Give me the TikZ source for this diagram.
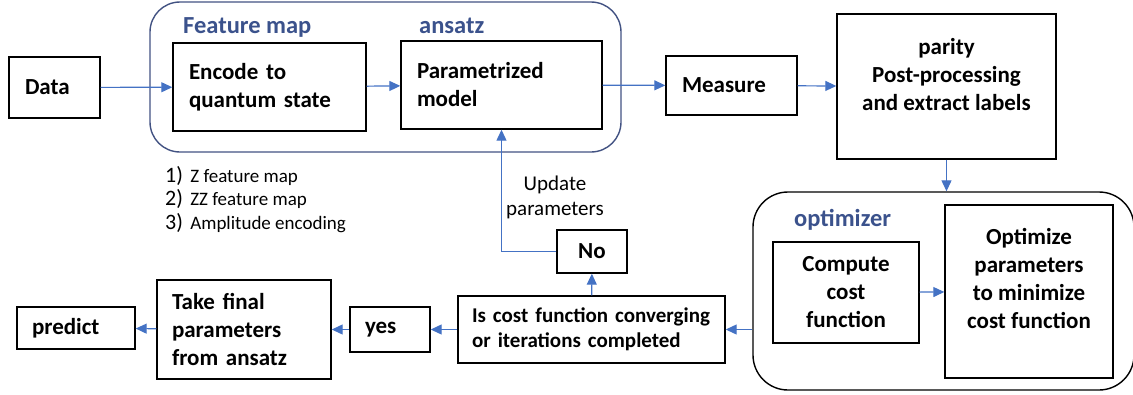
\documentclass[tikz,border=0pt]{standalone}
\usepackage{fontspec}
\setmainfont{Carlito}
\usetikzlibrary{arrows.meta}
\definecolor{ln}{RGB}{68, 114, 196}
\definecolor{tt}{RGB}{59, 82, 140}
\definecolor{gg}{RGB}{66, 82, 130}

\begin{document}
\begin{tikzpicture}[every node/.style={inner sep=0pt},
box/.style={rectangle, draw=black, line width=1.4pt, font=\fontsize{23}{28}\selectfont\bfseries},
grp/.style={rectangle, line width=1.4pt},
tag/.style={color=tt, font=\fontsize{24.5}{28}\selectfont\bfseries},
arr/.style={line width=1.2pt, color=ln, -{Triangle[length=11pt, width=10pt]}}]
\useasboundingbox (0pt, 0pt) rectangle (1133pt, -394pt);
\node (fm) [grp, draw=gg, rounded corners=30pt, minimum width=471pt, minimum height=150pt] at (385.5pt, -77pt) {};
\node (og) [grp, draw=black, rounded corners=35pt, minimum width=381pt, minimum height=198pt] at (943.5pt, -291pt) {};
\node (fmtag) [tag, anchor=base west] at (183pt, -33pt) {Feature map};
\node (anstag) [tag, anchor=base west] at (419pt, -33pt) {ansatz};
\node (opttag) [tag, anchor=base west] at (794pt, -226pt) {optimizer};
\node (data) [box, minimum height=61pt, text width=59pt, inner xsep=16pt, align=left] at (54.5pt, -87.5pt) {Data};
\node (enc) [box, minimum height=88pt, text width=161pt, inner xsep=16pt, align=left] at (269.5pt, -87pt) {Encode to\\quantum state};
\node (par) [box, minimum height=88pt, text width=169pt, inner xsep=16pt, align=left] at (501.5pt, -85pt) {Parametrized\\model};
\node (meas) [box, minimum height=59pt, text width=99pt, inner xsep=16pt, align=left] at (731.5pt, -85.5pt) {Measure};
\node (post) [box, minimum width=219pt, minimum height=145pt, align=center] at (946.5pt, -86.5pt) {parity\\Post-processing\\and extract labels\\[-4pt]\mbox{}};
\node (cost) [box, minimum width=146pt, minimum height=101pt, align=center] at (846pt, -292.5pt) {Compute\\cost\\function};
\node (opt) [box, minimum width=168pt, minimum height=173pt, align=center] at (1029pt, -291.5pt) {Optimize\\parameters\\to minimize\\cost function\\[-1pt]\mbox{}};
\node (conv) [box, font=\fontsize{21}{28}\selectfont\bfseries, minimum height=67pt, text width=239pt, inner xsep=14pt, align=left] at (591.5pt, -329.5pt) {Is cost function converging\\[-3pt]or iterations completed};
\node (no) [box, minimum width=70pt, minimum height=43pt] at (592pt, -251.5pt) {No};
\node (yes) [box, minimum height=45pt, text width=50pt, inner xsep=15pt, align=left] at (390pt, -329.5pt) {yes};
\node (take) [box, minimum height=99pt, text width=144pt, inner xsep=15pt, align=left] at (244pt, -329.5pt) {Take final\\parameters\\from ansatz};
\node (pred) [box, minimum height=42pt, text width=88pt, inner xsep=15pt, align=left] at (76pt, -328pt) {predict};
\node (upd) [align=center, font=\fontsize{21}{25}\selectfont] at (555pt, -197pt) {Update\\parameters};
\node (maps) [anchor=north west, align=left, font=\fontsize{19}{23.5}\selectfont] at (165pt, -166pt) {{\fontsize{22}{23.5}\selectfont 1)}\hspace{3pt} Z feature map\\{\fontsize{22}{23.5}\selectfont 2)}\hspace{3pt} ZZ feature map\\{\fontsize{22}{23.5}\selectfont 3)}\hspace{3pt} Amplitude encoding};
\draw [arr] (data) to (enc);
\draw [arr] (enc) to (par);
\draw [arr] (par) to (meas);
\draw [arr] (meas) to (post);
\draw [arr] (post.south) to (post.south |- og.north);
\draw [arr] (cost) to (opt);
\draw [arr] (og.west |- conv.east) to (conv.east);
\draw [arr] (conv) to (no);
\draw [arr] (no.west) -| (par.south);
\draw [arr] (conv) to (yes);
\draw [arr] (yes) to (take);
\draw [arr] (take) to (pred);
\end{tikzpicture}
\end{document}
